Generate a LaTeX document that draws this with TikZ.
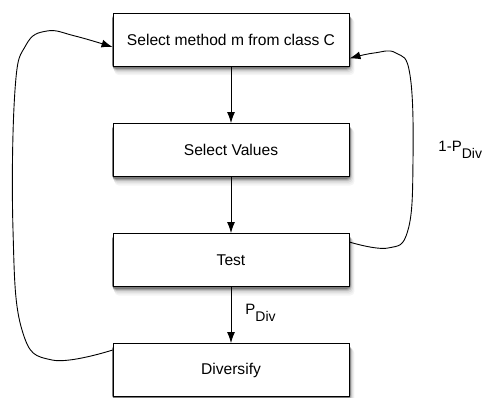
\documentclass[tikz,border=0pt]{standalone}
\usepackage{fontspec}
\setmainfont{Liberation Sans}
\usetikzlibrary{arrows.meta}

\newcommand{\pdivtxt}[1]{#1\raisebox{-6.5pt}{\fontsize{14}{16}\selectfont Div}}

\begin{document}
\begin{tikzpicture}[x=1pt,y=-1pt,line width=0.9pt,
  step box/.style={draw, fill=white, minimum width=236pt, minimum height=53pt,
    font=\fontsize{15.6}{18}\selectfont},
  lbl/.style={font=\fontsize{15}{18}\selectfont, inner sep=1pt},
  >={Latex[length=11pt,width=8pt]}]

\useasboundingbox (0,0) rectangle (485,397);

% soft shadows under the boxes
\foreach \y in {39.5,150,260,370}
  \foreach \s/\c in {9/4,7.5/8,6/14,4.5/24,3.5/36,2.5/52}
    \fill[black!\c, rounded corners=4pt] (113+\s*0.4-2,\y-26.5+\s*0.6) rectangle (349+\s*0.6,\y+26.5+\s);

\node[step box] (v1) at (231,39.5) {Select method m from class C};
\node[step box] (v2) at (231,150) {Select Values};
\node[step box] (v3) at (231,260) {Test};
\node[step box] (v4) at (231,370) {Diversify};

\draw[->]  (v1) -- (v2);
\draw[->]  (v2) -- (v3);
\draw[->]  (v3) -- (v4);

% way back from Diversify
\draw[->]  plot[smooth, tension=.7] coordinates {([yshift=-7pt]v4.north west) (52,360) (22,330) (13,230) (15,90) (26,45) (47,31) (75,36) ([yshift=-7.5pt]v1.west)};
% way back from Test
\draw[->]  plot[smooth, tension=.7] coordinates {([yshift=-9pt]v3.north east) (388,248) (408,230) (413,160) (410,75) (396,53) (374,53) ([yshift=8pt]v1.south east)};

\node[lbl, anchor=west] (pdiv) at (244,313) {\pdivtxt{P}};
\node[lbl, anchor=west] (qdiv) at (437,150) {\pdivtxt{1-P}};
\end{tikzpicture}
\end{document}
